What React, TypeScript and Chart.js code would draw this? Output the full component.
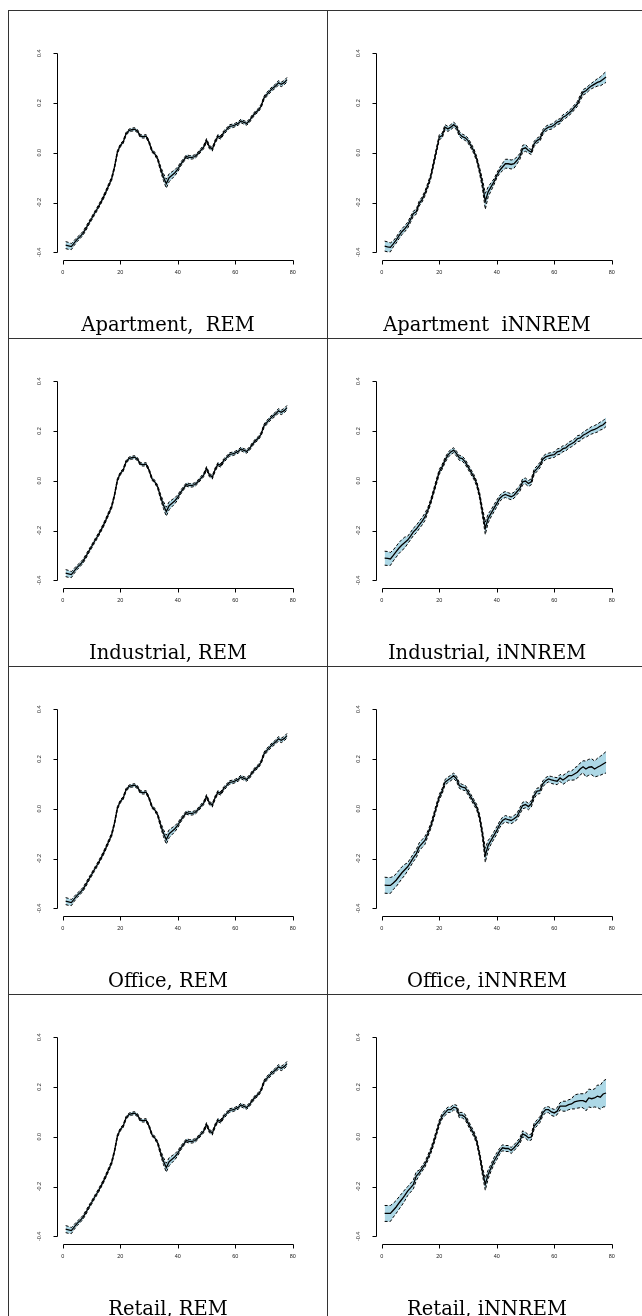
import React, { useEffect, useRef } from "react";
import { Chart, registerables } from "chart.js";

Chart.register(...registerables);

// ---- data ----
const periods = [
  1, 2, 3, 4, 5, 6, 7, 8, 9, 10, 11, 12, 13, 14, 15, 16, 17, 18, 19, 20,
  21, 22, 23, 24, 25, 26, 27, 28, 29, 30, 31, 32, 33, 34, 35, 36, 37, 38, 39, 40,
  41, 42, 43, 44, 45, 46, 47, 48, 49, 50, 51, 52, 53, 54, 55, 56, 57, 58, 59, 60,
  61, 62, 63, 64, 65, 66, 67, 68, 69, 70, 71, 72, 73, 74, 75, 76, 77, 78,
];

const xTicks = [0, 20, 40, 60, 80];
const xTickLabels = ["0", "20", "40", "60", "80"];
const yTicks = [-0.4, -0.2, 0, 0.2, 0.4];
const yTickLabels = ["-0.4", "-0.2", "0.0", "0.2", "0.4"];

// REM index (same shape in all four property types)
const remMean = [
  -0.371, -0.374, -0.377, -0.362, -0.348, -0.337, -0.324, -0.305, -0.284, -0.265,
  -0.244, -0.225, -0.204, -0.182, -0.157, -0.130, -0.104, -0.057, 0.003, 0.029,
  0.043, 0.076, 0.089, 0.093, 0.095, 0.087, 0.067, 0.065, 0.067, 0.043,
  0.009, -0.004, -0.024, -0.064, -0.097, -0.124, -0.100, -0.090, -0.080, -0.066,
  -0.046, -0.030, -0.015, -0.018, -0.018, -0.015, -0.004, 0.010, 0.023, 0.050,
  0.023, 0.014, 0.045, 0.067, 0.062, 0.082, 0.093, 0.106, 0.108, 0.112,
  0.118, 0.128, 0.122, 0.118, 0.130, 0.147, 0.161, 0.171, 0.188, 0.221,
  0.235, 0.248, 0.259, 0.268, 0.281, 0.275, 0.282, 0.294,
];
const remBand = [
  0.014, 0.014, 0.012, 0.010, 0.009, 0.008, 0.008, 0.008, 0.007, 0.007,
  0.007, 0.007, 0.007, 0.007, 0.007, 0.007, 0.007, 0.006, 0.006, 0.006,
  0.006, 0.006, 0.006, 0.006, 0.006, 0.006, 0.006, 0.006, 0.006, 0.006,
  0.006, 0.006, 0.006, 0.010, 0.014, 0.018, 0.016, 0.014, 0.012, 0.010,
  0.008, 0.007, 0.007, 0.007, 0.007, 0.007, 0.007, 0.007, 0.007, 0.007,
  0.007, 0.007, 0.007, 0.007, 0.007, 0.007, 0.007, 0.007, 0.007, 0.007,
  0.007, 0.007, 0.007, 0.007, 0.007, 0.007, 0.007, 0.007, 0.007, 0.007,
  0.008, 0.008, 0.008, 0.008, 0.009, 0.009, 0.009, 0.009,
];

const aptNnMean = [
  -0.375, -0.378, -0.380, -0.366, -0.351, -0.333, -0.317, -0.305, -0.291, -0.268,
  -0.244, -0.237, -0.204, -0.188, -0.164, -0.132, -0.097, -0.044, 0.009, 0.063,
  0.069, 0.103, 0.096, 0.103, 0.113, 0.103, 0.076, 0.065, 0.060, 0.049,
  0.029, 0.007, -0.024, -0.071, -0.124, -0.195, -0.157, -0.137, -0.117, -0.091,
  -0.071, -0.057, -0.044, -0.044, -0.047, -0.044, -0.031, -0.015, 0.016, 0.020,
  0.009, 0.003, 0.036, 0.049, 0.056, 0.083, 0.096, 0.103, 0.105, 0.113,
  0.123, 0.127, 0.143, 0.149, 0.159, 0.169, 0.183, 0.196, 0.220, 0.243,
  0.249, 0.260, 0.269, 0.276, 0.283, 0.287, 0.296, 0.305,
];
const aptNnBand = [
  0.020, 0.020, 0.018, 0.012, 0.012, 0.012, 0.012, 0.012, 0.012, 0.012,
  0.010, 0.010, 0.010, 0.010, 0.010, 0.010, 0.010, 0.010, 0.010, 0.010,
  0.010, 0.010, 0.010, 0.010, 0.010, 0.010, 0.010, 0.010, 0.010, 0.010,
  0.010, 0.010, 0.010, 0.012, 0.018, 0.032, 0.020, 0.016, 0.012, 0.010,
  0.012, 0.015, 0.018, 0.018, 0.018, 0.018, 0.014, 0.012, 0.014, 0.014,
  0.010, 0.010, 0.010, 0.010, 0.010, 0.010, 0.010, 0.010, 0.010, 0.010,
  0.010, 0.010, 0.010, 0.010, 0.010, 0.010, 0.010, 0.010, 0.011, 0.011,
  0.011, 0.011, 0.011, 0.013, 0.015, 0.018, 0.020, 0.022,
];

const indNnMean = [
  -0.311, -0.312, -0.314, -0.300, -0.285, -0.270, -0.258, -0.248, -0.238, -0.222,
  -0.205, -0.194, -0.178, -0.163, -0.145, -0.118, -0.085, -0.045, -0.004, 0.036,
  0.056, 0.083, 0.103, 0.116, 0.123, 0.109, 0.092, 0.089, 0.076, 0.056,
  0.036, 0.016, -0.011, -0.058, -0.124, -0.191, -0.151, -0.131, -0.111, -0.091,
  -0.071, -0.060, -0.055, -0.060, -0.064, -0.058, -0.044, -0.031, -0.004, -0.001,
  -0.011, -0.004, 0.036, 0.049, 0.063, 0.087, 0.096, 0.100, 0.103, 0.105,
  0.116, 0.119, 0.129, 0.132, 0.143, 0.149, 0.156, 0.169, 0.172, 0.183,
  0.189, 0.196, 0.203, 0.207, 0.212, 0.220, 0.225, 0.236,
];
const indNnBand = [
  0.028, 0.028, 0.026, 0.022, 0.022, 0.022, 0.022, 0.022, 0.015, 0.015,
  0.015, 0.015, 0.015, 0.015, 0.015, 0.010, 0.010, 0.010, 0.010, 0.010,
  0.010, 0.010, 0.010, 0.010, 0.010, 0.010, 0.010, 0.010, 0.010, 0.010,
  0.010, 0.010, 0.010, 0.012, 0.016, 0.025, 0.018, 0.014, 0.014, 0.014,
  0.012, 0.012, 0.012, 0.012, 0.012, 0.012, 0.012, 0.012, 0.012, 0.012,
  0.012, 0.012, 0.011, 0.011, 0.011, 0.011, 0.011, 0.011, 0.011, 0.011,
  0.012, 0.012, 0.012, 0.012, 0.012, 0.012, 0.012, 0.012, 0.012, 0.012,
  0.014, 0.014, 0.015, 0.015, 0.016, 0.016, 0.017, 0.018,
];

const offNnMean = [
  -0.307, -0.308, -0.308, -0.298, -0.287, -0.272, -0.257, -0.245, -0.233, -0.215,
  -0.196, -0.180, -0.153, -0.140, -0.127, -0.100, -0.071, -0.033, 0.009, 0.047,
  0.071, 0.107, 0.116, 0.124, 0.133, 0.120, 0.093, 0.087, 0.084, 0.067,
  0.047, 0.027, 0.007, -0.033, -0.100, -0.187, -0.147, -0.127, -0.107, -0.087,
  -0.063, -0.047, -0.040, -0.044, -0.047, -0.040, -0.031, -0.009, 0.013, 0.017,
  0.009, 0.020, 0.053, 0.071, 0.073, 0.100, 0.113, 0.120, 0.116, 0.113,
  0.111, 0.124, 0.116, 0.124, 0.133, 0.133, 0.140, 0.147, 0.160, 0.169,
  0.160, 0.167, 0.169, 0.160, 0.167, 0.173, 0.180, 0.187,
];
const offNnBand = [
  0.032, 0.032, 0.032, 0.026, 0.026, 0.025, 0.024, 0.022, 0.016, 0.016,
  0.016, 0.016, 0.016, 0.016, 0.016, 0.011, 0.011, 0.011, 0.011, 0.011,
  0.011, 0.011, 0.011, 0.011, 0.011, 0.011, 0.011, 0.011, 0.011, 0.011,
  0.011, 0.011, 0.011, 0.012, 0.016, 0.028, 0.020, 0.015, 0.015, 0.015,
  0.013, 0.013, 0.013, 0.013, 0.013, 0.013, 0.013, 0.013, 0.013, 0.013,
  0.013, 0.013, 0.012, 0.012, 0.012, 0.012, 0.012, 0.012, 0.014, 0.014,
  0.014, 0.014, 0.018, 0.018, 0.018, 0.018, 0.024, 0.024, 0.024, 0.024,
  0.032, 0.032, 0.032, 0.032, 0.036, 0.038, 0.040, 0.043,
];

const retNnMean = [
  -0.308, -0.308, -0.308, -0.295, -0.282, -0.266, -0.251, -0.235, -0.218, -0.205,
  -0.191, -0.158, -0.145, -0.128, -0.111, -0.085, -0.058, -0.024, 0.016, 0.056,
  0.083, 0.096, 0.109, 0.109, 0.119, 0.116, 0.087, 0.087, 0.079, 0.056,
  0.033, 0.012, -0.017, -0.071, -0.138, -0.191, -0.151, -0.124, -0.098, -0.078,
  -0.058, -0.044, -0.047, -0.047, -0.055, -0.044, -0.031, -0.017, 0.012, 0.006,
  -0.004, -0.001, 0.043, 0.056, 0.069, 0.096, 0.109, 0.109, 0.100, 0.096,
  0.103, 0.123, 0.123, 0.123, 0.129, 0.132, 0.140, 0.143, 0.145, 0.145,
  0.140, 0.156, 0.153, 0.156, 0.163, 0.159, 0.172, 0.176,
];
const retNnBand = [
  0.032, 0.032, 0.032, 0.028, 0.026, 0.025, 0.024, 0.022, 0.018, 0.018,
  0.018, 0.018, 0.011, 0.011, 0.011, 0.011, 0.011, 0.011, 0.011, 0.011,
  0.011, 0.011, 0.011, 0.011, 0.011, 0.011, 0.011, 0.011, 0.011, 0.011,
  0.011, 0.011, 0.011, 0.012, 0.016, 0.024, 0.018, 0.014, 0.014, 0.014,
  0.012, 0.012, 0.012, 0.012, 0.012, 0.012, 0.012, 0.012, 0.012, 0.012,
  0.012, 0.012, 0.012, 0.012, 0.012, 0.012, 0.012, 0.012, 0.014, 0.014,
  0.014, 0.014, 0.020, 0.020, 0.020, 0.020, 0.028, 0.028, 0.028, 0.028,
  0.036, 0.036, 0.036, 0.036, 0.045, 0.048, 0.052, 0.055,
];

const panelTitles = [
  "Apartment,  REM",
  "Apartment  iNNREM",
  "Industrial, REM",
  "Industrial, iNNREM",
  "Office, REM",
  "Office, iNNREM",
  "Retail, REM",
  "Retail, iNNREM",
];
const panelMeans = [remMean, aptNnMean, remMean, indNnMean, remMean, offNnMean, remMean, retNnMean];
const panelBands = [remBand, aptNnBand, remBand, indNnBand, remBand, offNnBand, remBand, retNnBand];

// ---- layout ----
const PANEL_W = 319;
const PANEL_H = 328;
const CANVAS_W = 320;
const CANVAS_H = 329;
const X_MIN = -2.08;
const X_MAX = 81.08;
const Y_MIN = -0.432;
const Y_MAX = 0.432;
const AXIS_FONT = '5.5px "Liberation Sans", Arial, sans-serif';

const rAxesPlugin = {
  id: "rAxes",
  afterDraw(chart: any) {
    const { ctx, chartArea } = chart;
    const xs = chart.scales.x;
    const ys = chart.scales.y;
    ctx.save();
    ctx.strokeStyle = "#000";
    ctx.lineWidth = 1;
    ctx.setLineDash([]);
    // x axis
    const yb = Math.round(chartArea.bottom) + 0.5;
    ctx.beginPath();
    ctx.moveTo(Math.round(xs.getPixelForValue(xTicks[0])) + 0.5, yb);
    ctx.lineTo(Math.round(xs.getPixelForValue(xTicks[xTicks.length - 1])) + 0.5, yb);
    xTicks.forEach((t) => {
      const px = Math.round(xs.getPixelForValue(t)) + 0.5;
      ctx.moveTo(px, yb);
      ctx.lineTo(px, yb + 4);
    });
    // y axis
    const xl = Math.round(chartArea.left) + 0.5;
    ctx.moveTo(xl, Math.round(ys.getPixelForValue(yTicks[0])) + 0.5);
    ctx.lineTo(xl, Math.round(ys.getPixelForValue(yTicks[yTicks.length - 1])) + 0.5);
    yTicks.forEach((t) => {
      const py = Math.round(ys.getPixelForValue(t)) + 0.5;
      ctx.moveTo(xl, py);
      ctx.lineTo(xl - 4, py);
    });
    ctx.stroke();

    ctx.fillStyle = "#222";
    ctx.font = AXIS_FONT;
    ctx.textAlign = "center";
    ctx.textBaseline = "middle";
    xTicks.forEach((t, i) => {
      ctx.fillText(xTickLabels[i], xs.getPixelForValue(t), yb + 12);
    });
    yTicks.forEach((t, i) => {
      ctx.save();
      ctx.translate(xl - 18, ys.getPixelForValue(t));
      ctx.rotate(-Math.PI / 2);
      ctx.fillText(yTickLabels[i], 0, 0);
      ctx.restore();
    });
    ctx.restore();
  },
};

function Panel({ index }: { index: number }) {
  const ref = useRef<HTMLCanvasElement | null>(null);
  useEffect(() => {
    const mean = panelMeans[index];
    const band = panelBands[index];
    const lower = periods.map((p, i) => ({ x: p, y: mean[i] - band[i] }));
    const upper = periods.map((p, i) => ({ x: p, y: mean[i] + band[i] }));
    const center = periods.map((p, i) => ({ x: p, y: mean[i] }));
    const chart = new Chart(ref.current as HTMLCanvasElement, {
      type: "line",
      data: {
        datasets: [
          {
            data: lower,
            borderColor: "#000",
            borderWidth: 1,
            borderDash: [3, 2],
            pointRadius: 0,
            fill: false,
          },
          {
            data: upper,
            borderColor: "#000",
            borderWidth: 1,
            borderDash: [3, 2],
            pointRadius: 0,
            fill: "-1",
            backgroundColor: "#ADD8E6",
          },
          {
            data: center,
            borderColor: "#000",
            borderWidth: 1.3,
            pointRadius: 0,
            fill: false,
          },
        ],
      },
      options: {
        responsive: false,
        animation: false,
        devicePixelRatio: 1,
        events: [],
        layout: {
          padding: { left: 48.8, top: 35.3, right: CANVAS_W - 287.9, bottom: CANVAS_H - 250.3 },
        },
        scales: {
          x: { type: "linear", min: X_MIN, max: X_MAX, display: false },
          y: { type: "linear", min: Y_MIN, max: Y_MAX, display: false },
        },
        plugins: {
          legend: { display: false },
          tooltip: { enabled: false },
          filler: { drawTime: "beforeDatasetsDraw" },
        },
      } as any,
      plugins: [rAxesPlugin],
    });
    return () => chart.destroy();
  }, [index]);

  const col = index % 2;
  const row = Math.floor(index / 2);
  return (
    <div
      style={{
        position: "absolute",
        left: 8 + col * PANEL_W,
        top: 10 + row * PANEL_H,
        width: CANVAS_W,
        height: CANVAS_H,
      }}
    >
      <div
        style={{
          position: "absolute",
          left: 0,
          top: 0,
          width: CANVAS_W,
          height: CANVAS_H,
          boxSizing: "border-box",
          border: "1px solid #333",
        }}
      />
      <canvas
        ref={ref}
        width={CANVAS_W}
        height={CANVAS_H}
        style={{ position: "absolute", left: 0, top: 0, display: "block" }}
      />
      <div
        style={{
          position: "absolute",
          left: 0,
          top: 304.5,
          width: CANVAS_W,
          textAlign: "center",
          fontFamily: '"DejaVu Serif", serif',
          fontSize: "19.5px",
          lineHeight: 1,
          whiteSpace: "pre",
          color: "#000",
        }}
      >
        {panelTitles[index]}
      </div>
    </div>
  );
}

export default function App() {
  return (
    <div
      style={{
        position: "fixed",
        left: 0,
        top: 0,
        width: 642,
        height: 1316,
        overflow: "hidden",
        background: "#fff",
      }}
    >
      {panelTitles.map((_, i) => (
        <Panel key={i} index={i} />
      ))}
    </div>
  );
}
